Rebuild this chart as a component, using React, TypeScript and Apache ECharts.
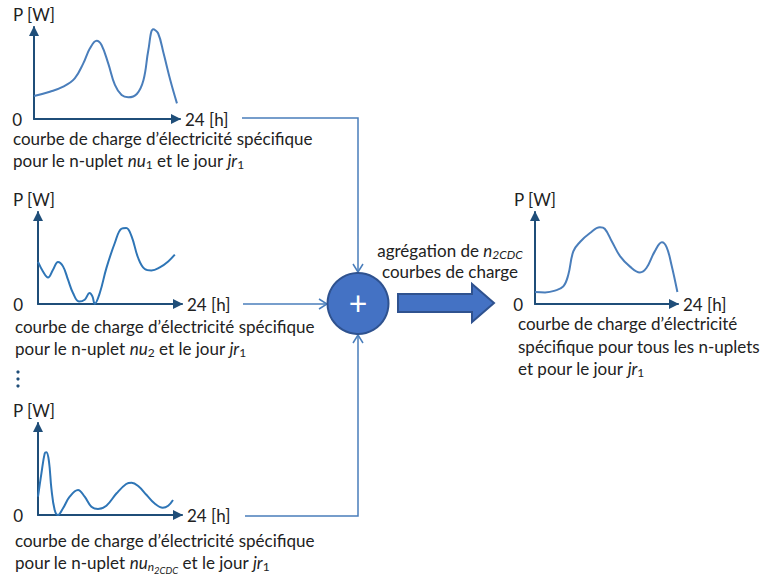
import React, { useEffect, useRef } from 'react';
import * as echarts from 'echarts';

// ---- data (hours, power in arbitrary units 0..100) ----
const hours1 = [0, 2.6, 4.8, 6.7, 8.1, 9.2, 10.3, 11.1, 12.2, 13.3, 14.4, 15.5, 16.9, 18, 18.8, 19.6, 20.4, 21.3, 22.4, 23.5];
const power1 = [25, 29.7, 35.1, 44.2, 60.5, 76.8, 85.1, 80.4, 60.5, 37, 26, 23.6, 27.2, 42.4, 75, 97.5, 93.2, 71.4, 42.4, 17];

const hours2 = [0, 0.83, 1.67, 2.5, 3.33, 4.17, 5, 5.83, 6.83, 7.78, 8.6, 9.07, 9.45, 10.3, 11.4, 12.8, 13.9, 14.7, 15.6, 16.7, 17.8, 18.9, 20.3, 21.7, 22.8];
const power2 = [45.7, 35.4, 28.9, 37.3, 45.7, 40.9, 26.4, 12, 2.8, 4.7, 12, 8.3, 0.3, 12, 39, 66.3, 81.8, 82.6, 73.5, 50, 38, 36.5, 39.8, 46.3, 53.6];

const hours3 = [0, 0.57, 1.12, 1.4, 1.83, 2.23, 2.78, 3.33, 4.17, 5.28, 6.67, 7.78, 8.9, 10, 11.4, 13.1, 14.7, 15.6, 16.7, 18.1, 19.4, 20.8, 21.7, 22.5];
const power3 = [19.9, 45.3, 67, 68.2, 58, 29, 5.4, 0, 7.3, 19.9, 27.2, 19.9, 9, 6.5, 10.1, 23.6, 33.7, 35.1, 31.5, 21.7, 12.7, 7.9, 10.1, 16.3];

const hours4 = [0, 1.68, 3.36, 4.75, 5.59, 6.43, 7.55, 9.23, 10.9, 11.7, 12.9, 14.3, 15.9, 17.6, 18.7, 20.1, 21.3, 22.1, 22.9, 23.9];
const power4 = [13, 12.6, 14.5, 19.1, 31.8, 57.2, 67.4, 77.2, 83.3, 81.8, 68, 51.7, 40.9, 34.3, 39.1, 57.2, 67, 61.5, 42.7, 13];

const xAxisName = '24 [h]';
const yAxisName = 'P [W]';
const line1 = 'courbe de charge d’électricité spécifique';
const aggLine2 = 'courbes de charge';
const rightLines = ['courbe de charge d’électricité', 'spécifique pour tous les n-uplets'];

const FF = 'Lato, "Open Sans", sans-serif';
const FS = 17;
const TEXT = '#222222';
const AXIS = '#1F4E79';
const CONN = '#4A7EBB';
const FILL = '#4472C4';
const BORDER = '#2F528F';

const rich = {
  r: { fontSize: FS, fontFamily: FF, color: TEXT },
  i: { fontSize: FS, fontFamily: FF, color: TEXT, fontStyle: 'italic' },
  s: { fontSize: 12, fontFamily: FF, color: TEXT, padding: [8, 0, 0, 0] },
  si: { fontSize: 12, fontFamily: FF, color: TEXT, fontStyle: 'italic', padding: [8, 0, 0, 0] },
  ssi: { fontSize: 9.5, fontFamily: FF, color: TEXT, fontStyle: 'italic', padding: [16, 0, 0, 0] },
};

function txt(x: number, y: number, text: string, align = 'left') {
  return {
    type: 'text',
    x,
    y,
    style: {
      text,
      rich,
      font: `${FS}px ${FF}`,
      fontSize: FS,
      fontFamily: FF,
      fill: TEXT,
      align,
      textAlign: align,
      verticalAlign: 'middle',
      textVerticalAlign: 'middle',
    },
  };
}

export default function App() {
  const ref = useRef<HTMLDivElement>(null);
  useEffect(() => {
    if (!ref.current) return;
    const chart = echarts.init(ref.current, undefined, { renderer: 'svg' });
    const grids = [
      { left: 34, top: 27, width: 146, height: 92 },
      { left: 38, top: 212, width: 144, height: 92 },
      { left: 38, top: 423, width: 144, height: 92 },
      { left: 535, top: 212, width: 143, height: 92 },
    ];
    const curves = [
      { h: hours1, p: power1, color: '#4A7EBB' },
      { h: hours2, p: power2, color: '#2E75B6' },
      { h: hours3, p: power3, color: '#2E75B6' },
      { h: hours4, p: power4, color: '#4A7EBB' },
    ];
    const nameShift = [0, 8, 8, 0];
    const zeroMargin = [12, 15, 15, 12];
    const axisLine = {
      show: true,
      onZero: false,
      lineStyle: { color: AXIS, width: 2 },
      symbol: ['none', 'triangle'],
      symbolSize: [10, 10],
      symbolOffset: [0, -4],
    };
    const option: any = {
      animation: false,
      grid: grids.map((g) => ({ ...g, containLabel: false })),
      xAxis: grids.map((_, i) => ({
        type: 'value',
        gridIndex: i,
        min: 0,
        max: 24,
        axisLine,
        axisTick: { show: false },
        axisLabel: { show: false },
        splitLine: { show: false },
        name: xAxisName,
        nameLocation: 'end',
        nameGap: 5,
        nameTextStyle: { fontFamily: FF, fontSize: FS, color: TEXT, verticalAlign: 'middle' },
      })),
      yAxis: grids.map((_, i) => ({
        type: 'value',
        gridIndex: i,
        min: 0,
        max: 100,
        interval: 100,
        axisLine,
        axisTick: { show: false },
        axisLabel: {
          show: true,
          margin: zeroMargin[i],
          fontFamily: FF,
          fontSize: FS,
          color: TEXT,
          formatter: (v: number) => (v === 0 ? '0' : ''),
        },
        splitLine: { show: false },
        name: yAxisName,
        nameLocation: 'end',
        nameGap: 4,
        nameTextStyle: { fontFamily: FF, fontSize: FS, color: TEXT, padding: [0, nameShift[i], 0, 0] },
      })),
      series: curves.map((c, i) => ({
        type: 'line',
        xAxisIndex: i,
        yAxisIndex: i,
        smooth: 0.4,
        showSymbol: false,
        lineStyle: { color: c.color, width: 2 },
        data: c.h.map((h, k) => [h, c.p[k]]),
      })),
      graphic: [
        // connectors
        { type: 'polyline', shape: { points: [[242, 118], [358, 118], [358, 272]] }, style: { stroke: CONN, lineWidth: 1.5, fill: 'none' } },
        { type: 'polyline', shape: { points: [[353, 264], [358, 272], [363, 264]] }, style: { stroke: CONN, lineWidth: 1.5, fill: 'none' } },
        { type: 'line', shape: { x1: 243, y1: 304, x2: 327, y2: 304 }, style: { stroke: CONN, lineWidth: 1.5 } },
        { type: 'polyline', shape: { points: [[319, 299], [327, 304], [319, 309]] }, style: { stroke: CONN, lineWidth: 1.5, fill: 'none' } },
        { type: 'polyline', shape: { points: [[245, 516], [358, 516], [358, 335]] }, style: { stroke: CONN, lineWidth: 1.5, fill: 'none' } },
        { type: 'polyline', shape: { points: [[353, 343], [358, 335], [363, 343]] }, style: { stroke: CONN, lineWidth: 1.5, fill: 'none' } },
        // summing node
        { type: 'circle', shape: { cx: 358, cy: 303.5, r: 30.5 }, style: { fill: FILL, stroke: BORDER, lineWidth: 2 } },
        { type: 'text', x: 358, y: 302, style: { text: '+', fill: '#ffffff', fontSize: 32, fontFamily: FF, align: 'center', verticalAlign: 'middle', textAlign: 'center', textVerticalAlign: 'middle' } },
        // big arrow
        {
          type: 'polygon',
          shape: { points: [[398, 294], [472, 294], [472, 284], [494, 303], [472, 322], [472, 312], [398, 312]] },
          style: { fill: FILL, stroke: BORDER, lineWidth: 2 },
        },
        // vertical dots
        { type: 'circle', shape: { cx: 18, cy: 372, r: 1.6 }, style: { fill: AXIS } },
        { type: 'circle', shape: { cx: 18, cy: 379, r: 1.6 }, style: { fill: AXIS } },
        { type: 'circle', shape: { cx: 18, cy: 386, r: 1.6 }, style: { fill: AXIS } },
        // texts
        txt(13, 138, `{r|${line1}}`),
        txt(13, 160, '{r|pour le n-uplet }{i|nu}{s|1}{r| et le jour }{i|jr}{s|1}'),
        txt(15, 326, `{r|${line1}}`),
        txt(15, 348, '{r|pour le n-uplet }{i|nu}{s|2}{r| et le jour }{i|jr}{s|1}'),
        txt(15, 540, `{r|${line1}}`),
        txt(15, 562, '{r|pour le n-uplet }{i|nu}{si|n}{ssi|2CDC}{r| et le jour }{i|jr}{s|1}'),
        txt(518, 323, `{r|${rightLines[0]}}`),
        txt(518, 346, `{r|${rightLines[1]}}`),
        txt(518, 368, '{r|et pour le jour }{i|jr}{s|1}'),
        txt(450, 250, '{r|agrégation de }{i|n}{si|2CDC}', 'center'),
        txt(450, 271, `{r|${aggLine2}}`, 'center'),
      ],
    };
    chart.setOption(option);
    return () => chart.dispose();
  }, []);
  return <div ref={ref} style={{ position: 'absolute', left: 0, top: 0, width: 763, height: 576 }} />;
}
